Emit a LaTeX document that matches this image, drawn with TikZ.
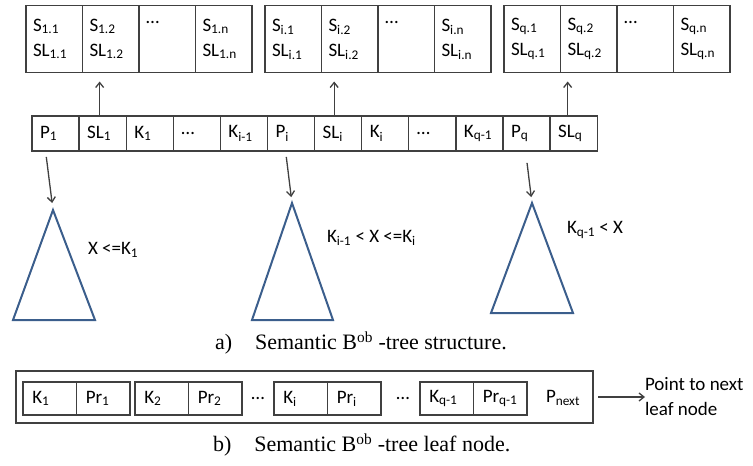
\documentclass[tikz,border=0pt]{standalone}
\usepackage{fontspec}
\setmainfont{Liberation Serif}
\newfontfamily\cellfont{Carlito}
\usepackage{xcolor}
\usetikzlibrary{positioning, arrows.meta}

\definecolor{boxgray}{HTML}{404040}
\definecolor{treeblue}{HTML}{3B5E8C}

\begin{document}
\begin{tikzpicture}[
  x=1pt, y=-1pt,
  every node/.style={inner sep=0pt, outer sep=0pt},
  cellfnt/.style={font=\cellfont\fontsize{19}{25}\selectfont},
  setcell/.style={cellfnt, draw=boxgray, line width=1.3pt, minimum width=56.5pt, minimum height=67pt, text width=42.5pt, align=left},
  keycell/.style={cellfnt, draw=boxgray, line width=1.3pt, minimum width=47.1pt, minimum height=35pt, text width=31pt, align=left},
  leafcell/.style={cellfnt, draw=boxgray, line width=1.3pt, minimum width=53.5pt, minimum height=33pt, text width=35pt, align=left},
  subtree/.style={draw=treeblue, line width=2pt},
  ptr/.style={-{Straight Barb[length=5pt, width=8pt]}, draw=boxgray, line width=1.3pt},
  cond/.style={cellfnt, anchor=west},
  caption/.style={font=\fontsize{22}{26}\selectfont, anchor=west}
]
\useasboundingbox (0,0) rectangle (753,466);

% semantic lists above the index node
\node[setcell, anchor=north west] (s11) at (26,5.5) {S\textsubscript{1.1}\\SL\textsubscript{1.1}};
\node[setcell, right=0pt of s11] (s12) {S\textsubscript{1.2}\\SL\textsubscript{1.2}};
\node[setcell, right=0pt of s12] (s1d) {…\\\strut};
\node[setcell, right=0pt of s1d] (s1n) {S\textsubscript{1.n}\\SL\textsubscript{1.n}};

\node[setcell, anchor=north west] (si1) at (265,5.5) {S\textsubscript{i.1}\\SL\textsubscript{i.1}};
\node[setcell, right=0pt of si1] (si2) {S\textsubscript{i.2}\\SL\textsubscript{i.2}};
\node[setcell, right=0pt of si2] (sid) {…\\\strut};
\node[setcell, right=0pt of sid] (sin) {S\textsubscript{i.n}\\SL\textsubscript{i.n}};

\node[setcell, anchor=north west] (sq1) at (504,5.5) {S\textsubscript{q.1}\\SL\textsubscript{q.1}};
\node[setcell, right=0pt of sq1] (sq2) {S\textsubscript{q.2}\\SL\textsubscript{q.2}};
\node[setcell, right=0pt of sq2] (sqd) {…\\\strut};
\node[setcell, right=0pt of sqd] (sqn) {S\textsubscript{q.n}\\SL\textsubscript{q.n}};

% index node
\node[keycell, anchor=north west] (p1) at (32,116) {P\textsubscript{1}};
\node[keycell, right=0pt of p1] (sl1) {SL\textsubscript{1}};
\node[keycell, right=0pt of sl1] (k1) {K\textsubscript{1}};
\node[keycell, right=0pt of k1] (d1) {…};
\node[keycell, right=0pt of d1] (ki1) {K\textsubscript{i-1}};
\node[keycell, right=0pt of ki1] (pi) {P\textsubscript{i}};
\node[keycell, right=0pt of pi] (sli) {SL\textsubscript{i}};
\node[keycell, right=0pt of sli] (ki) {K\textsubscript{i}};
\node[keycell, right=0pt of ki] (d2) {…};
\node[keycell, right=0pt of d2] (kq1) {K\textsubscript{q-1}};
\node[keycell, right=0pt of kq1] (pq) {P\textsubscript{q}};
\node[keycell, right=0pt of pq] (slq) {SL\textsubscript{q}};

\draw[ptr, shorten >=9pt] ([xshift=-3pt]sl1.north) -- ([xshift=-3pt]sl1.north |- s12.south);
\draw[ptr, shorten >=9pt] ([xshift=-4pt]sli.north) -- ([xshift=-4pt]sli.north |- si2.south);
\draw[ptr, shorten >=9pt] ([xshift=-6pt]slq.north) -- ([xshift=-6pt]slq.north |- sq2.south);

% subtrees
\coordinate (t1) at (53,210);
\coordinate (ti) at (292,203);
\coordinate (tq) at (532,203);
\draw[subtree] (t1) -- (13,320) -- (95,320) -- cycle;
\draw[subtree] (ti) -- (252,320) -- (333,320) -- cycle;
\draw[subtree] (tq) -- (491,313) -- (573,313) -- cycle;

\draw[ptr, shorten <=6pt, shorten >=7pt] ([xshift=-10pt]p1.south) -- (t1);
\draw[ptr, shorten <=6pt, shorten >=6pt] ([xshift=-5.5pt]pi.south) -- (ti);
\draw[ptr, shorten <=12pt, shorten >=6pt] ([xshift=-1pt]pq.south) -- (tq);

\node[cond] (c1) at (88,250) {X <=K\textsubscript{1}};
\node[cond] (ci) at (327,238) {K\textsubscript{i-1} < X <=K\textsubscript{i}};
\node[cond] (cq) at (567,230) {K\textsubscript{q-1} < X};

\node[caption] (capa) at (215,343) {a)\hspace{23pt}Semantic B\textsuperscript{ob} -tree structure.};

% leaf node
\node[draw=boxgray, line width=1.3pt, minimum width=577pt, minimum height=52pt] (leaf) at (304.5,397) {};
\node[leafcell, anchor=west] (lk1) at (23,398.5) {K\textsubscript{1}};
\node[leafcell, right=0pt of lk1] (lp1) {Pr\textsubscript{1}};
\node[leafcell, anchor=west] (lk2) at (135,398.5) {K\textsubscript{2}};
\node[leafcell, right=0pt of lk2] (lp2) {Pr\textsubscript{2}};
\node[cellfnt] (ld1) at (258,398) {…};
\node[leafcell, anchor=west] (lki) at (274,398.5) {K\textsubscript{i}};
\node[leafcell, right=0pt of lki] (lpi) {Pr\textsubscript{i}};
\node[cellfnt] (ld2) at (403,398) {…};
\node[leafcell, anchor=west] (lkq) at (420,398.5) {K\textsubscript{q-1}};
\node[leafcell, right=0pt of lkq] (lpq) {Pr\textsubscript{q-1}};
\node[cellfnt] (pnext) at (563,398) {P\textsubscript{next}};

\node[cellfnt, anchor=west, align=left] (next) at (645,397) {Point to next\\leaf node};
\draw[ptr, shorten <=5pt] (leaf.east) -- (next.west);

\node[caption] (capb) at (213,445) {b)\hspace{23pt}Semantic B\textsuperscript{ob} -tree leaf node.};
\end{tikzpicture}
\end{document}
